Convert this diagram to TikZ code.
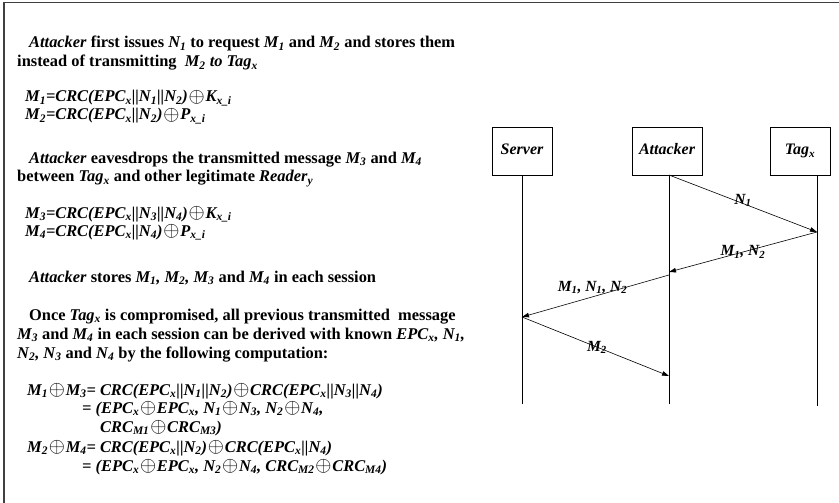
\documentclass[tikz,border=0pt]{standalone}
\usepackage{fontspec}
\setmainfont{Liberation Serif}
\usetikzlibrary{arrows.meta}
\newcommand\sbs[1]{\textsubscript{#1}}
\newcommand\xo{\kern0.8pt\raisebox{-0.3pt}{\scalebox{1.2}{$\oplus$}}\kern0.8pt\relax}
\tikzset{
  txt/.style={anchor=base west, inner sep=0pt, font=\fontsize{16.4}{19}\selectfont\bfseries},
  actor/.style={draw, line width=0.6pt, minimum height=48pt, inner sep=0pt, text height=11pt, text depth=4pt, font=\fontsize{16}{19}\selectfont\bfseries\itshape},
  life/.style={line width=0.6pt},
  msg/.style={line width=0.6pt, -{Triangle[length=7pt,width=4.5pt]}},
  lbl/.style={font=\fontsize{15.5}{17}\selectfont\bfseries\itshape, inner sep=0pt}
}
\begin{document}
\begin{tikzpicture}[x=1pt,y=-1pt]
\useasboundingbox (0,0) rectangle (839,503);
\draw[line width=1.2pt, black!75] (4,503) -- (4,2.5) -- (839,2.5);
% text
\node[txt] (t1) at (29,48) {\textit{Attacker} first issues \textit{N\sbs{1}} to request \textit{M\sbs{1}} and \textit{M\sbs{2}} and stores them};
\node[txt] (t2) at (17,67) {instead of transmitting\ \ \textit{M\sbs{2} to Tag\sbs{x}}};
\node[txt] (t3) at (25,102) {\textit{M\sbs{1}=CRC(EPC\sbs{x}||N\sbs{1}||N\sbs{2})\xo K\sbs{x\_i}}};
\node[txt] (t4) at (25,120) {\textit{M\sbs{2}=CRC(EPC\sbs{x}||N\sbs{2})\xo P\sbs{x\_i}}};
\node[txt] (t5) at (29,163) {\textit{Attacker} eavesdrops the transmitted message \textit{M\sbs{3}} and \textit{M\sbs{4}}};
\node[txt] (t6) at (17,182) {between \textit{Tag\sbs{x}} and other legitimate \textit{Reader\sbs{y}}};
\node[txt] (t7) at (25,218) {\textit{M\sbs{3}=CRC(EPC\sbs{x}||N\sbs{3}||N\sbs{4})\xo K\sbs{x\_i}}};
\node[txt] (t8) at (25,236) {\textit{M\sbs{4}=CRC(EPC\sbs{x}||N\sbs{4})\xo P\sbs{x\_i}}};
\node[txt] (t9) at (29,282) {\textit{Attacker} stores \textit{M\sbs{1}, M\sbs{2}, M\sbs{3}} and \textit{M\sbs{4}} in each session};
\node[txt] (t10) at (29,320) {Once \textit{Tag\sbs{x}} is compromised, all previous transmitted\ \ message};
\node[txt] (t11) at (17,339) {\textit{M\sbs{3}} and \textit{M\sbs{4}} in each session can be derived with known \textit{EPC\sbs{x}, N\sbs{1},}};
\node[txt] (t12) at (17,358) {\textit{N\sbs{2}, N\sbs{3}} and \textit{N\sbs{4}} by the following computation:};
\node[txt] (t13) at (27,395) {\textit{M\sbs{1}\xo M\sbs{3}= CRC(EPC\sbs{x}||N\sbs{1}||N\sbs{2})\xo CRC(EPC\sbs{x}||N\sbs{3}||N\sbs{4})}};
\node[txt] (t14) at (82,413) {\textit{= (EPC\sbs{x}\xo EPC\sbs{x}, N\sbs{1}\xo N\sbs{3}, N\sbs{2}\xo N\sbs{4},}};
\node[txt] (t15) at (100,432) {\textit{CRC\sbs{M1}\xo CRC\sbs{M3})}};
\node[txt] (t16) at (27,452) {\textit{M\sbs{2}\xo M\sbs{4}= CRC(EPC\sbs{x}||N\sbs{2})\xo CRC(EPC\sbs{x}||N\sbs{4})}};
\node[txt] (t17) at (82,471) {\textit{= (EPC\sbs{x}\xo EPC\sbs{x}, N\sbs{2}\xo N\sbs{4}, CRC\sbs{M2}\xo CRC\sbs{M4})}};
% actors
\node[actor, minimum width=60pt] (srv) at (522,151) {Server};
\node[actor, minimum width=70pt] (att) at (667,151) {Attacker};
\node[actor, minimum width=60pt] (tag) at (800,151) {Tag\sbs{x}};
% lifelines
\coordinate (srvT) at (522,175);
\coordinate (attT) at (669,175);
\coordinate (tagT) at (817,175);
\coordinate (srvB) at (522,404);
\coordinate (attB) at (669,404);
\coordinate (tagB) at (817,406);
\draw[life] (srvT) -- (srvB);
\draw[life] (attT) -- (attB);
\draw[life] (tagT) -- (tagB);
% message points
\coordinate (a1) at (669,175);
\coordinate (g1) at (817,232);
\coordinate (a2) at (669,272);
\coordinate (a3) at (669,275);
\coordinate (s1) at (522,317);
\coordinate (a4) at (669,376);
\draw[msg] (a1) -- node[lbl, pos=0.5, yshift=3pt] {N\sbs{1}} (g1);
\draw[msg] (g1) -- node[lbl, pos=0.5] {M\sbs{1}, N\sbs{2}} (a2);
\draw[msg] (a3) -- node[lbl, pos=0.52, yshift=9pt] {M\sbs{1}, N\sbs{1}, N\sbs{2}} (s1);
\draw[msg] (s1) -- node[lbl, pos=0.51] {M\sbs{2}} (a4);
\end{tikzpicture}
\end{document}
